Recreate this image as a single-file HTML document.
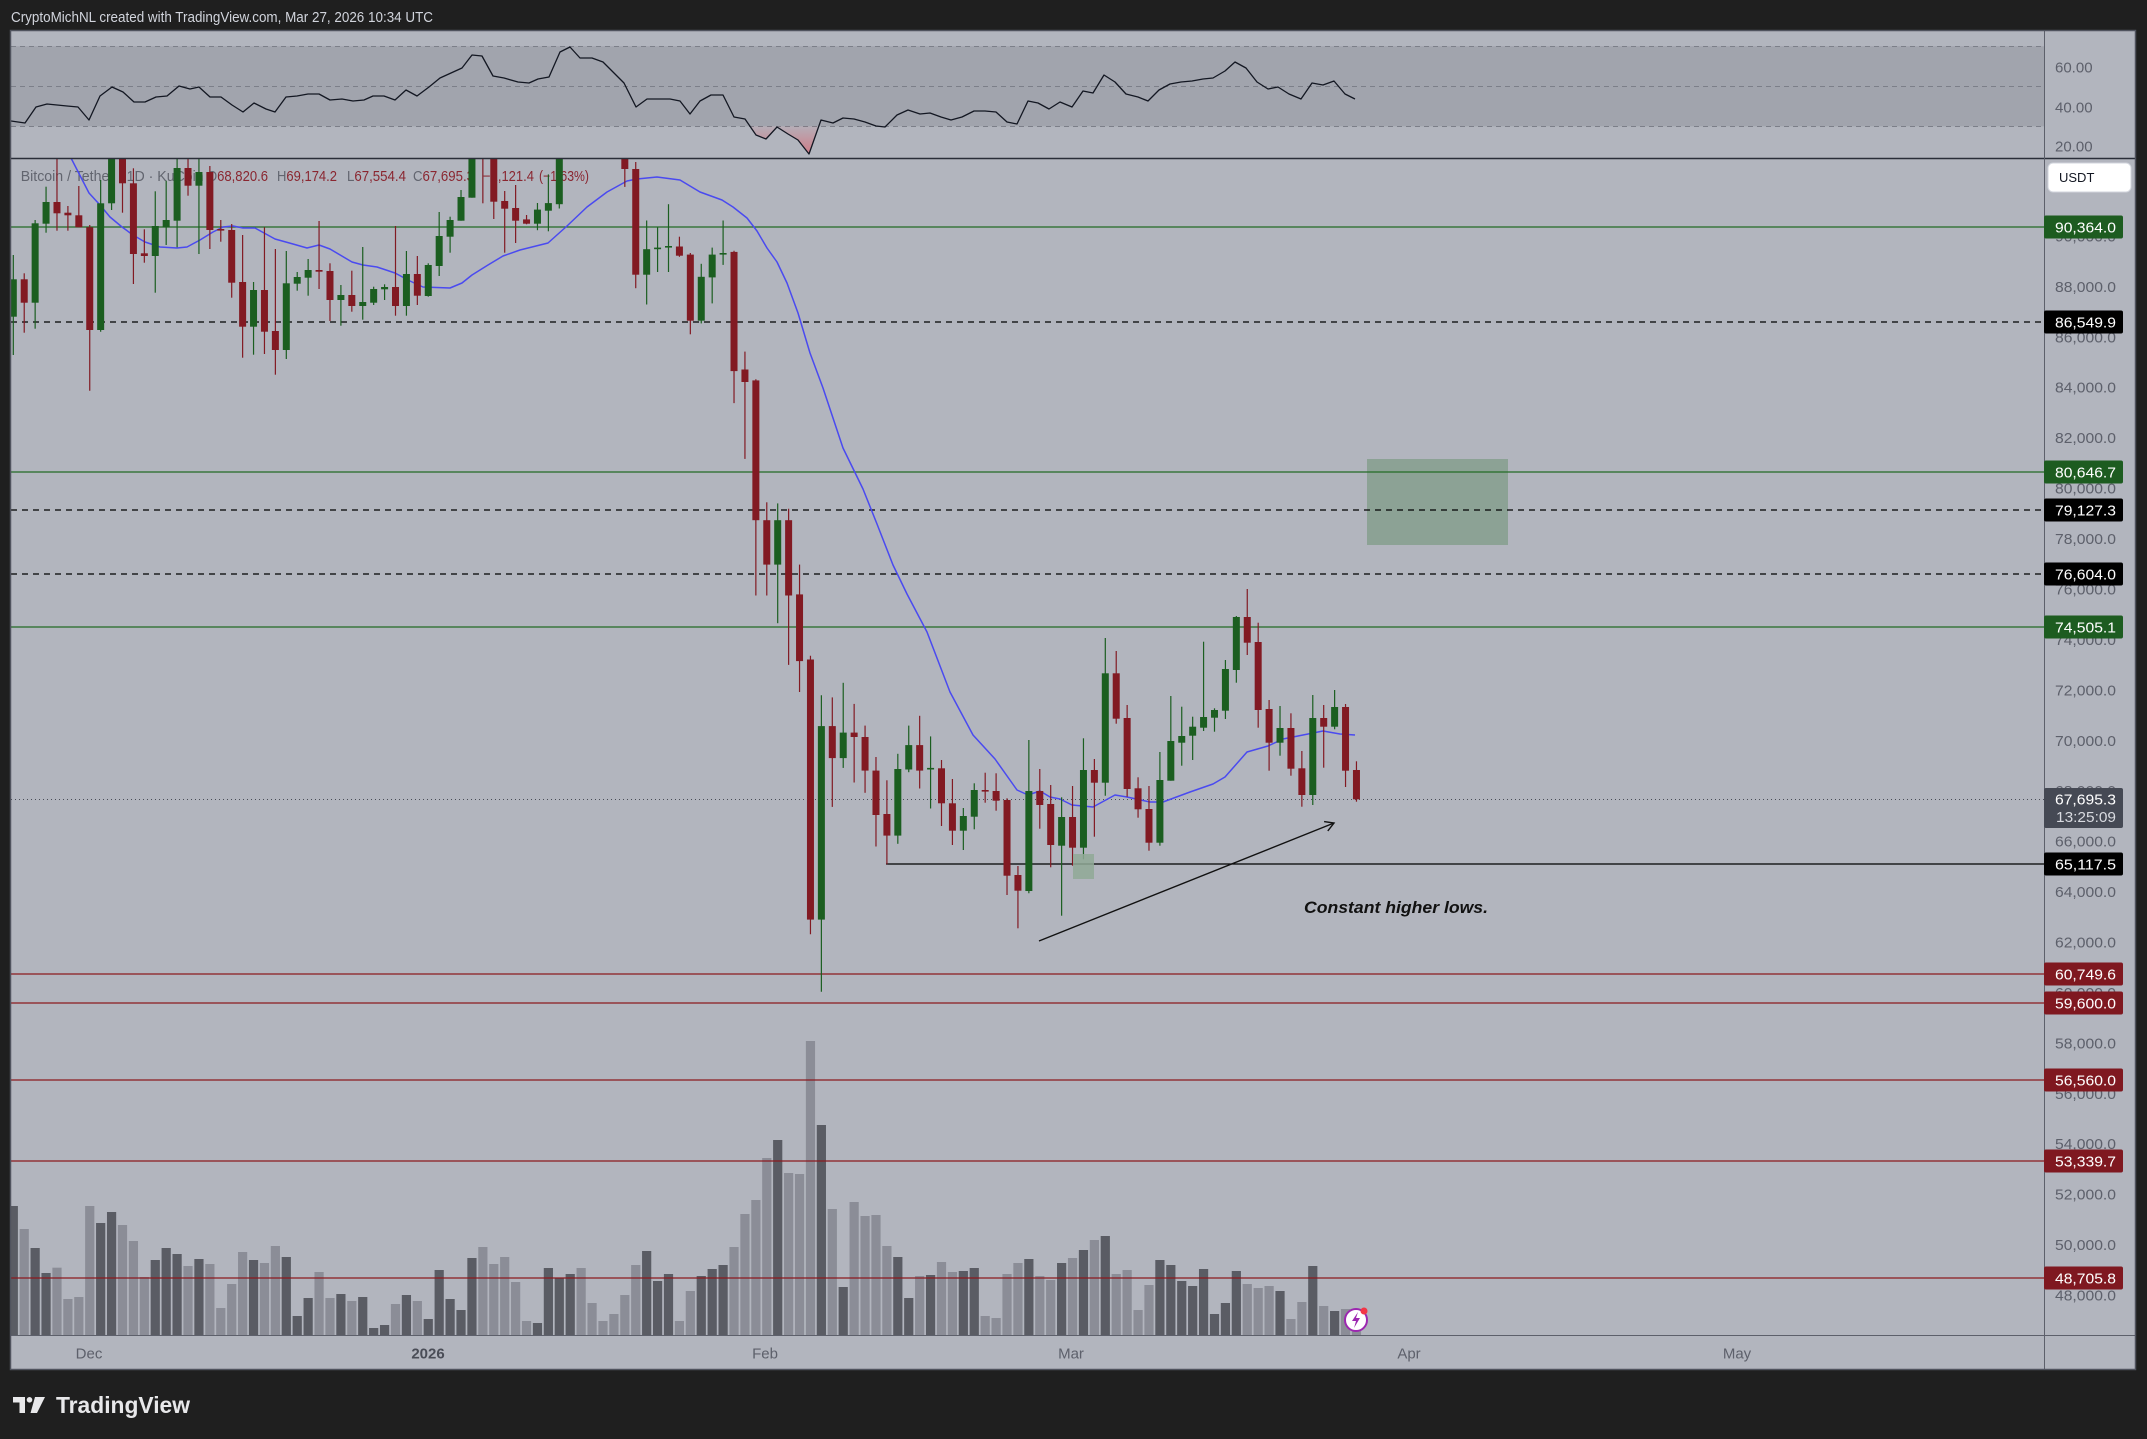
<!DOCTYPE html>
<html><head><meta charset="utf-8">
<style>
html,body{margin:0;padding:0;background:#1f1f1f;}
svg{display:block;font-family:"Liberation Sans",Arial,sans-serif;}
</style></head><body>
<svg id="s" width="2147" height="1439" viewBox="0 0 2147 1439" xmlns="http://www.w3.org/2000/svg">
<defs>
<clipPath id="mainClip"><rect x="11" y="159" width="2033" height="1176"/></clipPath>
<clipPath id="rsiClip"><rect x="11" y="31" width="2033" height="127"/></clipPath>
<linearGradient id="os" x1="0" y1="126" x2="0" y2="154" gradientUnits="userSpaceOnUse">
<stop offset="0" stop-color="#f23645" stop-opacity="0.05"/>
<stop offset="1" stop-color="#f23645" stop-opacity="0.45"/>
</linearGradient>
</defs>
<rect width="2147" height="1439" fill="#1f1f1f"/>
<rect x="10" y="30" width="2126" height="1340" fill="#b2b5be"/>

<!-- header -->
<text x="11" y="22" font-size="14.5" fill="#d1d4dc" textLength="422" lengthAdjust="spacingAndGlyphs">CryptoMichNL created with TradingView.com, Mar 27, 2026 10:34 UTC</text>

<!-- RSI pane -->
<rect x="11" y="46.3" width="2033" height="80" fill="#a1a4ad"/>
<g stroke="#7c7f89" stroke-width="1" stroke-dasharray="5 4">
<line x1="11" y1="46.5" x2="2044" y2="46.5"/>
<line x1="11" y1="86.5" x2="2044" y2="86.5"/>
<line x1="11" y1="126.5" x2="2044" y2="126.5"/>
</g>
<g clip-path="url(#rsiClip)">
<polygon points="750,126.3 756,135 766,139 777,127 788,134 798,140 809,154 818.8,126.3" fill="url(#os)"/>
<polyline fill="none" stroke="#131722" stroke-width="1.3" stroke-linejoin="round" points="11,121 25,123 36,107 47,104 67,106 78,107 89,120 100,96 112,87 123,92 134,102 145,102 156,97 167,96 179,86 190,89 199,87 210,97 221,97 232,105 243,112 254,103 266,109 275,112 286,97 297,96 308,94 319,94 330,100 342,99 353,101 364,100 373,96 384,96 395,100 406,90 417,96 429,87 440,78 451,73 462,68 472,55 482,56 493,76 504,78 518,82 529,83 538,79 549,77 560,52 570,47 580,58 592,58 603,62 614,73 624,83 636,107 647,99 658,99 670,99 680,101 690,114 700,101 711,95 723,95 734,117 745,119 756,135 766,139 777,127 788,134 798,140 809,154 821,120 833,123 843,118 854,119 865,122 876,126 885,127 897,115 908,110 920,114 930,113 941,117 951,120 962,117 974,111 985,111 996,112 1007,122 1017,124 1028,101 1038,103 1049,109 1060,102 1072,107 1083,91 1093,93 1104,75 1115,82 1126,94 1138,97 1148,101 1159,90 1170,84 1181,82 1192,81 1203,79 1213,78 1225,71 1235,62 1246,68 1257,82 1268,89 1278,87 1289,94 1301,99 1312,83 1323,85 1334,81 1345,94 1355,99"/>
</g>

<!-- legend -->
<g font-size="14.5">
<text x="20.7" y="181" fill="#62656f" textLength="183" lengthAdjust="spacingAndGlyphs">Bitcoin / Tether · 1D · KuCoin</text>
<text x="207" y="181" fill="#8a2630" textLength="61" lengthAdjust="spacingAndGlyphs"><tspan fill="#62656f">O</tspan>68,820.6</text>
<text x="277" y="181" fill="#8a2630" textLength="60" lengthAdjust="spacingAndGlyphs"><tspan fill="#62656f">H</tspan>69,174.2</text>
<text x="347" y="181" fill="#8a2630" textLength="59" lengthAdjust="spacingAndGlyphs"><tspan fill="#62656f">L</tspan>67,554.4</text>
<text x="413" y="181" fill="#8a2630" textLength="61" lengthAdjust="spacingAndGlyphs"><tspan fill="#62656f">C</tspan>67,695.3</text>
<text x="483" y="181" fill="#8a2630" textLength="51" lengthAdjust="spacingAndGlyphs">−1,121.4</text>
<text x="539" y="181" fill="#8a2630" textLength="50" lengthAdjust="spacingAndGlyphs">(−1.63%)</text>
</g>

<g clip-path="url(#mainClip)">
<g id="vol"></g>
<!-- boxes -->
<rect x="1367" y="459" width="141" height="86" fill="#8ca295"/>
<!-- lines -->
<g stroke-width="1.3">
<line x1="11" y1="227" x2="2044" y2="227" stroke="#236b26"/>
<line x1="11" y1="472" x2="2044" y2="472" stroke="#236b26"/>
<line x1="11" y1="627" x2="2044" y2="627" stroke="#236b26"/>
<line x1="11" y1="322" x2="2044" y2="322" stroke="#000" stroke-dasharray="6 5"/>
<line x1="11" y1="510" x2="2044" y2="510" stroke="#000" stroke-dasharray="6 5"/>
<line x1="11" y1="574" x2="2044" y2="574" stroke="#000" stroke-dasharray="6 5"/>
<line x1="11" y1="974" x2="2044" y2="974" stroke="#8b1a1f"/>
<line x1="11" y1="1003" x2="2044" y2="1003" stroke="#8b1a1f"/>
<line x1="11" y1="1080" x2="2044" y2="1080" stroke="#8b1a1f"/>
<line x1="11" y1="1161" x2="2044" y2="1161" stroke="#8b1a1f"/>
<line x1="11" y1="1278" x2="2044" y2="1278" stroke="#8b1a1f"/>
<line x1="886" y1="864" x2="2044" y2="864" stroke="#000"/>
</g>
<line x1="11" y1="799.5" x2="2044" y2="799.5" stroke="#4a4d57" stroke-width="1" stroke-dasharray="1 3"/>
<polyline fill="none" stroke="#4a4af0" stroke-width="1.5" stroke-linejoin="round" points="60,140 71,158 89,193 100,205 110,217 122,227 133,235 145,242 160,247 177,248 187,247 200,240 213,232 223,227 233,226 243,228 255,228 275,239 293,244 307,248 319,245 330,249 352,262 363,265 377,267 395,273 410,281 423,287 450,288 462,283 472,275 488,265 503,256 520,250 548,243 567,226 587,207 607,192 627,181 637,179 657,177 680,180 700,192 722,200 733,207 747,218 757,231 767,248 777,262 787,283 798,313 810,353 823,388 843,448 863,489 877,524 893,565 907,594 927,632 950,692 973,735 995,759 1017,790 1028,795 1040,791 1050,797 1060,799 1072,805 1093,807 1115,795 1127,797 1150,802 1163,802 1190,792 1213,784 1225,777 1247,752 1268,746 1283,739 1323,731 1340,734 1355,735"/>
<g id="cndl"></g>
<rect x="1073" y="854" width="21" height="25" fill="#8fa996" fill-opacity="0.85"/>
<!-- arrow -->
<g stroke="#111" stroke-width="1.4" fill="none">
<line x1="1039" y1="941" x2="1334" y2="823"/>
<polyline points="1324.1,821.6 1334,823 1327.8,830.9"/>
</g>
<text x="1304" y="913" font-size="17" font-weight="bold" font-style="italic" fill="#111" textLength="184" lengthAdjust="spacingAndGlyphs">Constant higher lows.</text>
<!-- icon -->
<circle cx="1356" cy="1320" r="11" fill="#fff" stroke="#9c27b0" stroke-width="2"/>
<path d="M1358 1312 L1352 1321 L1356 1321 L1354 1328 L1360 1318 L1356 1318 Z" fill="#9c27b0"/>
<circle cx="1364" cy="1311" r="3.5" fill="#f23645"/>
</g>

<!-- pane separators / borders -->
<line x1="10" y1="158.5" x2="2136" y2="158.5" stroke="#2a2e39" stroke-width="1.5"/>
<line x1="2044.5" y1="30" x2="2044.5" y2="1370" stroke="#5d606b" stroke-width="1"/>
<line x1="10" y1="1335.5" x2="2136" y2="1335.5" stroke="#5d606b" stroke-width="1"/>
<rect x="10.5" y="30.5" width="2125" height="1339" fill="none" stroke="#50535e" stroke-width="1.5"/>

<!-- RSI axis labels -->
<g font-size="15" fill="#5d606b">
<text x="2055" y="72.5">60.00</text>
<text x="2055" y="112.5">40.00</text>
<text x="2055" y="151.5">20.00</text>
</g>

<!-- price ticks -->
<g font-size="15" fill="#5d606b">
<text x="2055" y="241.4" textLength="61" lengthAdjust="spacingAndGlyphs">90,000.0</text>
<text x="2055" y="291.9" textLength="61" lengthAdjust="spacingAndGlyphs">88,000.0</text>
<text x="2055" y="342.3" textLength="61" lengthAdjust="spacingAndGlyphs">86,000.0</text>
<text x="2055" y="392.7" textLength="61" lengthAdjust="spacingAndGlyphs">84,000.0</text>
<text x="2055" y="443.2" textLength="61" lengthAdjust="spacingAndGlyphs">82,000.0</text>
<text x="2055" y="493.6" textLength="61" lengthAdjust="spacingAndGlyphs">80,000.0</text>
<text x="2055" y="544" textLength="61" lengthAdjust="spacingAndGlyphs">78,000.0</text>
<text x="2055" y="594.5" textLength="61" lengthAdjust="spacingAndGlyphs">76,000.0</text>
<text x="2055" y="644.9" textLength="61" lengthAdjust="spacingAndGlyphs">74,000.0</text>
<text x="2055" y="695.3" textLength="61" lengthAdjust="spacingAndGlyphs">72,000.0</text>
<text x="2055" y="745.8" textLength="61" lengthAdjust="spacingAndGlyphs">70,000.0</text>
<text x="2055" y="796.2" textLength="61" lengthAdjust="spacingAndGlyphs">68,000.0</text>
<text x="2055" y="846.6" textLength="61" lengthAdjust="spacingAndGlyphs">66,000.0</text>
<text x="2055" y="897.1" textLength="61" lengthAdjust="spacingAndGlyphs">64,000.0</text>
<text x="2055" y="947.5" textLength="61" lengthAdjust="spacingAndGlyphs">62,000.0</text>
<text x="2055" y="997.9" textLength="61" lengthAdjust="spacingAndGlyphs">60,000.0</text>
<text x="2055" y="1048.4" textLength="61" lengthAdjust="spacingAndGlyphs">58,000.0</text>
<text x="2055" y="1098.8" textLength="61" lengthAdjust="spacingAndGlyphs">56,000.0</text>
<text x="2055" y="1149.2" textLength="61" lengthAdjust="spacingAndGlyphs">54,000.0</text>
<text x="2055" y="1199.7" textLength="61" lengthAdjust="spacingAndGlyphs">52,000.0</text>
<text x="2055" y="1250.1" textLength="61" lengthAdjust="spacingAndGlyphs">50,000.0</text>
<text x="2055" y="1300.5" textLength="61" lengthAdjust="spacingAndGlyphs">48,000.0</text>
</g>

<!-- USDT -->
<rect x="2048" y="163" width="83" height="29" rx="5" fill="#ffffff" stroke="#d1d4dc"/>
<text x="2059" y="182" font-size="13" fill="#131722">USDT</text>

<!-- price label boxes -->
<g>
<rect x="2044" y="215.5" width="79" height="23" rx="2" fill="#1d5c20"/>
<rect x="2044" y="310.5" width="79" height="23" rx="2" fill="#000"/>
<rect x="2044" y="460.5" width="79" height="23" rx="2" fill="#1d5c20"/>
<rect x="2044" y="498.5" width="79" height="23" rx="2" fill="#000"/>
<rect x="2044" y="562.5" width="79" height="23" rx="2" fill="#000"/>
<rect x="2044" y="615.5" width="79" height="23" rx="2" fill="#1d5c20"/>
<rect x="2044" y="788" width="79" height="40" rx="2" fill="#454954"/>
<rect x="2044" y="852.5" width="79" height="23" rx="2" fill="#000"/>
<rect x="2044" y="962.5" width="79" height="23" rx="2" fill="#7f1820"/>
<rect x="2044" y="991.5" width="79" height="23" rx="2" fill="#7f1820"/>
<rect x="2044" y="1068.5" width="79" height="23" rx="2" fill="#7f1820"/>
<rect x="2044" y="1149.5" width="79" height="23" rx="2" fill="#7f1820"/>
<rect x="2044" y="1266.5" width="79" height="23" rx="2" fill="#7f1820"/>
</g>
<g font-size="15" fill="#ffffff">
<text x="2055" y="232.5" textLength="61" lengthAdjust="spacingAndGlyphs">90,364.0</text>
<text x="2055" y="327.5" textLength="61" lengthAdjust="spacingAndGlyphs">86,549.9</text>
<text x="2055" y="477.5" textLength="61" lengthAdjust="spacingAndGlyphs">80,646.7</text>
<text x="2055" y="515.5" textLength="61" lengthAdjust="spacingAndGlyphs">79,127.3</text>
<text x="2055" y="579.5" textLength="61" lengthAdjust="spacingAndGlyphs">76,604.0</text>
<text x="2055" y="632.5" textLength="61" lengthAdjust="spacingAndGlyphs">74,505.1</text>
<text x="2055" y="804.5" textLength="61" lengthAdjust="spacingAndGlyphs">67,695.3</text>
<text x="2056" y="822" textLength="60" lengthAdjust="spacingAndGlyphs" fill="#d8dae0">13:25:09</text>
<text x="2055" y="869.5" textLength="61" lengthAdjust="spacingAndGlyphs">65,117.5</text>
<text x="2055" y="979.5" textLength="61" lengthAdjust="spacingAndGlyphs">60,749.6</text>
<text x="2055" y="1008.5" textLength="61" lengthAdjust="spacingAndGlyphs">59,600.0</text>
<text x="2055" y="1085.5" textLength="61" lengthAdjust="spacingAndGlyphs">56,560.0</text>
<text x="2055" y="1166.5" textLength="61" lengthAdjust="spacingAndGlyphs">53,339.7</text>
<text x="2055" y="1283.5" textLength="61" lengthAdjust="spacingAndGlyphs">48,705.8</text>
</g>

<!-- time axis -->
<g font-size="15" fill="#5d606b" text-anchor="middle">
<text x="89" y="1358.5">Dec</text>
<text x="428" y="1358.5" font-weight="bold" fill="#4a4d57">2026</text>
<text x="765" y="1358.5">Feb</text>
<text x="1071" y="1358.5">Mar</text>
<text x="1409" y="1358.5">Apr</text>
<text x="1737" y="1358.5">May</text>
</g>

<!-- footer logo -->
<g fill="#e8e8ea">
<path d="M13 1397 H25 V1413 H19.5 V1402.5 H13 Z"/>
<circle cx="29.5" cy="1399.8" r="2.8"/>
<path d="M35 1397 H45 L37 1413 H30.5 Z"/>
</g>
<text x="56" y="1413" font-size="23" font-weight="bold" fill="#e8e8ea" textLength="134" lengthAdjust="spacingAndGlyphs">TradingView</text>
</svg>

<script>
(function(){
const NS="http://www.w3.org/2000/svg";
function mk(t,a,p){const e=document.createElementNS(NS,t);for(const k in a)e.setAttribute(k,a[k]);p.appendChild(e);return e;}
const X=i=>13.3+i*10.92;
const D=[
["G",279.3,316.7,255,355],["R",279.3,302.7,273.3,332.7],["G",223.3,302.7,220,328.7],["G",202,223.7,186.7,232.7],
["R",202,213.3,140,230.7],["R",212.7,215.3,206,230.7],["R",215.3,227.3,186,227.3],["R",227.3,330,225,390.7],
["G",203.3,330,180,331.7],["G",140,203.3,140,210],["R",140,183.3,140,212.7],["R",183.3,254,168.3,284],
["R",253.3,256,229.3,262.7],["G",226,256,191.3,292.7],["G",220,227.3,180.7,245],["G",168,220.7,140,247.3],
["R",168,185.7,140,195.7],["G",172,185.7,140,254],["R",172,230,166,249],["R",229,230.5,220,241.7],
["R",230,282.7,224,297.7],["R",282,326.7,235,357.7],["G",290,326.7,282,354.7],["R",290,331.7,227.3,354],
["R",331,350,249,374.7],["G",283.3,350,251,359],["G",277,283.7,272,290.7],["G",270,277.7,259,295.7],
["R",270,271.7,221,289],["R",271,300,263.3,321],["G",295,300,285,325.7],["R",295,306,270.7,311.7],
["G",302,306,247,319.7],["G",289,302.7,286.7,305],["G",287,289.3,284.3,300],["R",287,306,226,315.7],
["G",274,306,251,315.7],["R",274,295.7,256,305],["G",265,296,263.3,296.7],["G",236,266,212,276],
["G",220,236.7,216.7,252.7],["G",197,220.7,190,220.7],["G",140,197.7,140,197.7],["R",140,150,140,203.3],
["R",140,201.7,140,219],["R",201,208.7,191,252.7],["R",208,220.7,185,243],["R",219.4,223.7,215,224.3],
["G",209.6,223.7,203,230.2],["G",203.1,210.7,174.4,231.3],["G",140,204.2,140,208.5],
null,null,null,null,null,
["R",140,169,140,186.9],["R",169,274.7,162,288.2],["G",249.2,274.7,220.5,304.5],["G",247.6,249.2,227.5,272],
["G",246,247.6,204.2,272],["R",246.5,255.7,236.7,256.8],["R",254.6,320.7,253,334.3],["G",276.8,320.7,263.8,323.4],
["G",254.6,277.4,247.6,303.4],["G",253,254.6,220.5,264.9],["R",251.9,371.1,250.8,403.1],["R",369.5,382,351.6,458.9],
["R",380.4,520.2,379.3,595.5],["R",520.2,564.6,502.3,595.5],["G",520.2,564.6,503.4,623.2],["R",520.2,595.5,508.8,664.9],
["R",594.4,661.1,564.6,692],["R",659.5,919.6,655.7,934.3],["G",726.1,919.6,695.3,991.7],["R",726.1,758.1,697.4,806.9],
["G",732.6,758.1,682.8,767.9],["R",732.6,737,703.9,782.5],["R",737,770.6,725.6,792.8],["R",770.6,815,757,846.5],
["R",814,835.6,780.3,864.3],["G",769,835.6,753.8,843.8],["G",745.1,769.5,725.6,772.2],["R",745.1,770.6,715.8,788.5],
["G",767.9,769.5,736.4,808.5],["R",768.3,803.3,760,826],["R",803.3,830.7,779,845],["G",816,830.7,808,850],
["G",790,816.7,783.3,829.3],["R",790,791.5,772.7,802.7],["R",791,800.7,773.3,810.7],["R",800,875.7,798.3,895],
["R",875,890.7,866,928.3],["G",791,891,740,893.3],["R",791,805,769,828.7],["R",804,845,785,867.3],
["G",817,845.7,797.3,915.7],["R",817,847.7,786,865.7],["G",770,847.7,738.3,859.3],["R",770,782.7,759,836.7],
["G",673.3,782.7,638,795.7],["R",673.3,718.7,651,723.7],["R",718,789,705,796.7],["R",788.3,809.3,777.3,817.7],
["R",809,842.7,786,850.7],["G",780,842.7,752,845.7],["G",741,780.7,696,780.7],["G",736,742.7,706.7,765.7],
["G",726.7,735.7,716.7,760],["G",717,727.7,641.7,731],["G",710,717.7,708.3,731.7],["G",669,710.7,660,719],
["G",617,670,616,682.7],["R",617,642.7,589,655],["R",642,710,622.7,727.7],["R",709,742.7,700,770.7],
["G",728,742.7,706,755.7],["R",728,768.7,713.3,775.7],["R",768.3,795,751,806.7],["G",718,795,695,805],
["R",718,726.7,705,767.7],["G",707,726.7,690,729.3],["R",707,770.7,704,787],["R",770,799.3,761.3,801.7]
];
const V=[618,687,744,819,803,897,891,618,669,636,675,723,831,780,744,762,798,777,792,924,852,756,780,789,738,771,948,894,816,894,882,903,891,984,975,912,885,903,957,810,897,930,774,741,792,771,846,963,969,804,834,822,804,909,963,942,885,795,753,843,822,963,873,828,807,795,741,642,600,474,420,519,522,123,375,627,861,606,648,645,738,771,894,828,825,786,816,813,804,948,954,822,789,777,828,840,789,774,750,720,708,822,810,930,855,780,795,843,858,807,942,909,813,852,864,858,873,957,906,798,918,933,927,945];
const gv=document.getElementById('vol'), gc=document.getElementById('cndl');
V.forEach((v,i)=>{
  let dark;
  if(i>=51&&i<=55) dark=(i===51); else dark=D[i][0]==="G";
  const top=1000+v/3;
  mk('rect',{x:(X(i)-4.6).toFixed(2),y:top.toFixed(2),width:9.2,height:(1335-top).toFixed(2),fill:dark?'#5a5c64':'#8b8d97'},gv);
});
D.forEach((d,i)=>{
  if(!d) return;
  const [c,bt,bb,wt,wb]=d;
  const col=c==="G"?"#1b5e20":"#821a23";
  const x=X(i);
  mk('line',{x1:x.toFixed(2),y1:wt,x2:x.toFixed(2),y2:wb,stroke:col,'stroke-width':1.2},gc);
  const h=Math.max(bb-bt,1.6);
  mk('rect',{x:(x-3.5).toFixed(2),y:bt,width:7,height:h.toFixed(2),fill:col},gc);
});
})();
</script>
</body></html>
